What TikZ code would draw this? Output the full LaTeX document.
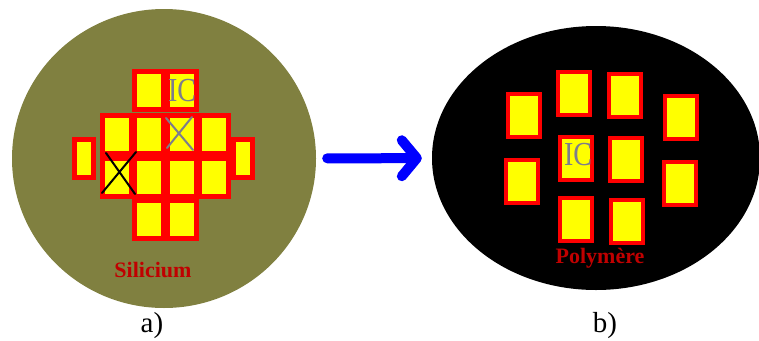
\documentclass[tikz,border=0pt]{standalone}
\usepackage{fontspec}
\setmainfont{Liberation Serif}
\usetikzlibrary{shapes.geometric,arrows.meta}
\definecolor{waferolive}{RGB}{128,128,64}
\definecolor{chipred}{RGB}{255,0,0}
\definecolor{chipyellow}{RGB}{255,255,0}
\definecolor{labelred}{RGB}{192,0,0}
\definecolor{icgray}{RGB}{125,125,140}
\begin{document}
\begin{tikzpicture}[x=1pt,y=-1pt,
    chip/.style={draw=chipred,fill=chipyellow,line width=5pt,minimum width=29pt,minimum height=38pt,inner sep=0pt,outer sep=0pt},
    sidechip/.style={chip,minimum width=19pt},
    diechip/.style={chip,line width=4pt,minimum width=32pt,minimum height=43pt},
    iclabel/.style={text=icgray,font=\fontsize{28}{30}\selectfont,inner sep=0pt},
    waferlabel/.style={text=labelred,font=\fontsize{22}{26}\selectfont\bfseries},
    caption/.style={font=\fontsize{29}{32}\selectfont},
    flow/.style={draw=blue,line width=10pt,line cap=round,-{Straight Barb[length=15pt,width=36pt,round]}}]
    \useasboundingbox (0,0) rectangle (759,340);
    % silicon wafer
    \node[ellipse,fill=waferolive,minimum width=304pt,minimum height=299pt,inner sep=0pt] (si) at (164,158.5) {};
    \foreach \n/\x/\y in {c02/149/90,c03/182/90,c11/117/134,c12/149/134,c13/182/134,c14/214/134,
                          c21/117/177,c22/149/177,c23/182/177,c24/214/177,c32/149/219,c33/182/219}
        \node[chip] (\n) at (\x,\y) {};
    \node[sidechip] (s0) at (84,158) {};
    \node[sidechip] (s5) at (243,158) {};
    \node[iclabel] (ic1) at (182,91) {\scalebox{1}[1.2]{IC}};
    \draw[icgray,line width=2pt,line cap=round] (166,118) -- (193,150) (192,117) -- (167,148);
    \draw[black,line width=2pt,line cap=round] (106,153) -- (135,194) (136,152) -- (102,193);
    \node[waferlabel] (silab) at (153,270) {Silicium};
    % polymer wafer
    \node[ellipse,fill=black,minimum width=328pt,minimum height=264pt,inner sep=0pt] (poly) at (596,158) {};
    \foreach \n/\x/\y in {d1/523.5/115.5,d2/574/93.5,d3/625/95.5,d4/681/117,d5/575.5/158,
                          d6/626/159.5,d7/522/181,d8/680/183.5,d9/576/219.5,d10/626.5/221.5}
        \node[diechip] (\n) at (\x,\y) {};
    \node[iclabel] (ic2) at (578,155) {\scalebox{1}[1.2]{IC}};
    \node[waferlabel] (polylab) at (600,258) {Polymère};
    % transfer
    \draw[flow,shorten <=11pt,shorten >=10pt] (si) -- (poly);
    \node[caption] (capa) at (152,326) {a)};
    \node[caption] (capb) at (605,326) {b)};
\end{tikzpicture}
\end{document}
